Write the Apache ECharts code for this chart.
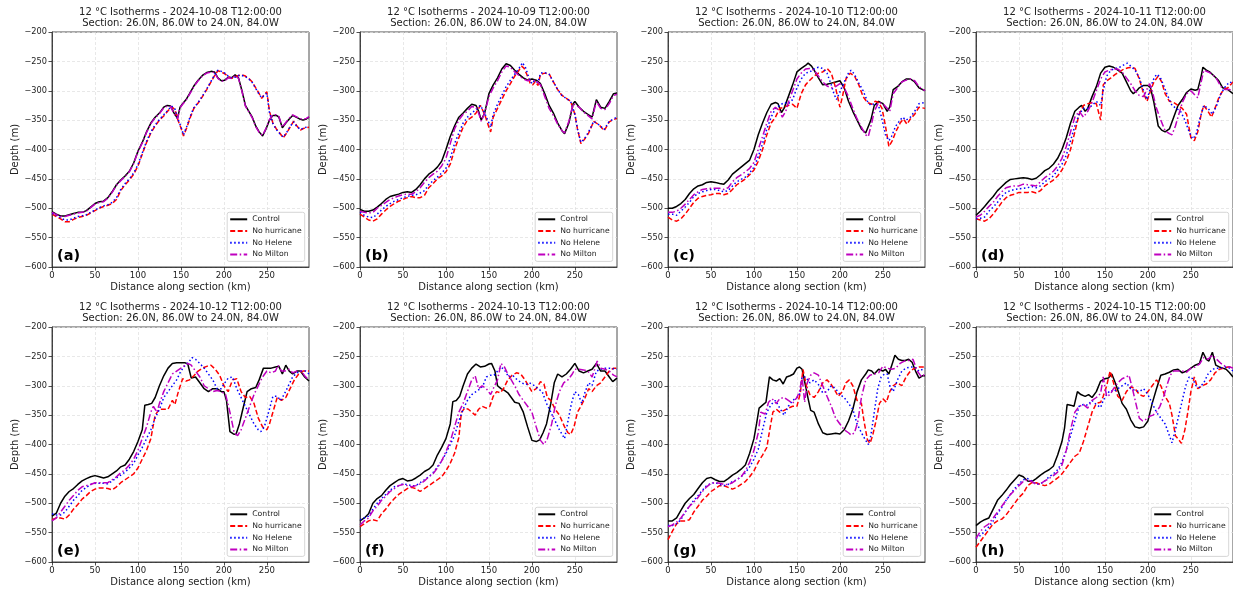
<!DOCTYPE html>
<html><head><meta charset="utf-8">
<script src="https://cdn.jsdelivr.net/npm/echarts@6/dist/echarts.min.js"></script>
<style>html,body{margin:0;padding:0;background:#fff}#c{width:1233px;height:594px}</style>
</head><body><div id="c"></div>
<script>
// ---------- data ----------
const dates = ['2024-10-08','2024-10-09','2024-10-10','2024-10-11','2024-10-12','2024-10-13','2024-10-14','2024-10-15'];
const letters = ['(a)','(b)','(c)','(d)','(e)','(f)','(g)','(h)'];
const seriesNames = ['Control','No hurricane','No Helene','No Milton'];
const xTicks = [0,50,100,150,200,250];
const xMax = 299;
const yMin = -600, yMax = -200;

// (a) 2024-10-08
const a_ctl = [[0,-506],[5,-510],[10,-513],[15,-513],[20,-511],[25,-509],[30,-507],[35,-507],[40,-504],[45,-498],[50,-492],[55,-489],[60,-488],[65,-482],[70,-472],[75,-460],[80,-452],[85,-445],[90,-437],[95,-423],[100,-403],[105,-388],[110,-370],[115,-355],[120,-345],[125,-338],[130,-328],[134,-325],[138,-326],[142,-338],[146,-347],[149,-328],[152,-322],[156,-315],[160,-305],[165,-292],[170,-282],[175,-274],[180,-269],[185,-267],[189,-268],[193,-278],[197,-283],[201,-282],[205,-277],[209,-278],[213,-273],[217,-278],[221,-300],[225,-325],[229,-335],[233,-345],[237,-360],[241,-370],[245,-377],[249,-365],[253,-350],[257,-342],[261,-342],[264,-345],[268,-363],[272,-355],[276,-348],[280,-342],[284,-345],[288,-348],[292,-350],[296,-348],[299,-345]];
const a_hur = [[0,-510],[5,-514],[10,-518],[15,-523],[20,-523],[25,-519],[30,-516],[35,-514],[40,-512],[45,-508],[50,-504],[55,-500],[60,-497],[65,-495],[70,-492],[75,-485],[80,-470],[85,-460],[90,-452],[95,-442],[100,-428],[105,-408],[110,-388],[115,-372],[120,-360],[125,-350],[130,-343],[135,-334],[139,-327],[143,-332],[147,-352],[150,-363],[153,-377],[157,-362],[161,-345],[165,-330],[170,-321],[175,-310],[180,-298],[185,-285],[190,-272],[193,-266],[197,-268],[201,-271],[205,-276],[209,-279],[213,-276],[217,-274],[221,-273],[225,-275],[229,-279],[233,-285],[237,-295],[241,-305],[244,-313],[247,-306],[250,-302],[253,-335],[257,-355],[261,-365],[265,-372],[269,-380],[273,-372],[277,-362],[281,-352],[285,-360],[289,-367],[293,-364],[299,-362]];
const a_hel = [[0,-509],[5,-512],[10,-516],[15,-520],[20,-520],[25,-517],[30,-514],[35,-513],[40,-511],[45,-507],[50,-503],[55,-499],[60,-496],[65,-494],[70,-490],[75,-482],[80,-468],[85,-458],[90,-450],[95,-440],[100,-426],[105,-406],[110,-386],[115,-370],[120,-358],[125,-349],[130,-341],[135,-333],[139,-326],[143,-331],[147,-350],[150,-361],[153,-375],[157,-360],[161,-343],[165,-329],[170,-320],[175,-309],[180,-297],[185,-284],[190,-271],[193,-265],[197,-267],[201,-270],[205,-275],[209,-278],[213,-277],[217,-274],[221,-274],[225,-276],[229,-280],[233,-286],[237,-296],[241,-306],[244,-312],[247,-308],[250,-304],[253,-337],[257,-356],[261,-366],[265,-373],[269,-379],[273,-371],[277,-361],[281,-353],[285,-361],[289,-366],[293,-363],[299,-361]];
const a_mil = [[0,-507],[5,-511],[10,-514],[15,-514],[20,-512],[25,-510],[30,-508],[35,-507],[40,-505],[45,-499],[50,-493],[55,-490],[60,-489],[65,-483],[70,-473],[75,-461],[80,-453],[85,-446],[90,-438],[95,-424],[100,-404],[105,-389],[110,-371],[115,-356],[120,-346],[125,-339],[130,-329],[134,-326],[138,-327],[142,-339],[146,-348],[149,-329],[152,-323],[156,-316],[160,-306],[165,-293],[170,-283],[175,-275],[180,-270],[185,-268],[189,-269],[193,-279],[197,-284],[201,-283],[205,-278],[209,-279],[213,-274],[217,-279],[221,-301],[225,-326],[229,-336],[233,-346],[237,-361],[241,-371],[245,-376],[249,-364],[253,-349],[257,-341],[261,-341],[264,-344],[268,-362],[272,-354],[276,-347],[280,-341],[284,-344],[288,-347],[292,-349],[296,-347],[299,-344]];

// (b) 2024-10-09
const b_ctl = [[0,-502],[5,-505],[10,-505],[15,-503],[20,-498],[25,-492],[30,-485],[35,-480],[40,-478],[45,-476],[50,-473],[55,-472],[60,-473],[65,-468],[70,-460],[75,-450],[80,-442],[85,-437],[90,-430],[95,-420],[100,-400],[105,-378],[110,-360],[115,-345],[120,-338],[125,-330],[130,-323],[135,-325],[138,-335],[141,-350],[145,-338],[150,-305],[155,-290],[160,-278],[165,-263],[170,-254],[175,-257],[180,-265],[185,-272],[190,-278],[195,-282],[200,-280],[205,-282],[210,-288],[215,-305],[220,-325],[225,-338],[230,-355],[235,-368],[238,-373],[243,-355],[248,-322],[250,-318],[255,-328],[260,-335],[265,-340],[270,-345],[275,-315],[280,-328],[285,-330],[290,-318],[295,-305],[299,-304]];
const b_hur = [[0,-510],[5,-515],[10,-520],[15,-522],[20,-518],[25,-510],[30,-503],[35,-497],[40,-492],[45,-488],[50,-485],[55,-482],[60,-480],[65,-482],[70,-482],[75,-478],[80,-465],[85,-458],[90,-450],[95,-445],[100,-438],[105,-425],[110,-400],[115,-380],[120,-362],[125,-350],[130,-345],[135,-338],[140,-325],[145,-340],[150,-362],[152,-370],[155,-345],[160,-330],[165,-315],[170,-300],[175,-288],[180,-275],[185,-265],[188,-258],[191,-262],[194,-272],[198,-287],[201,-290],[204,-284],[207,-291],[210,-272],[215,-270],[220,-271],[225,-285],[230,-298],[235,-308],[240,-313],[245,-318],[250,-340],[253,-365],[257,-390],[261,-383],[266,-372],[272,-352],[278,-358],[284,-368],[290,-353],[295,-349],[299,-347]];
const b_hel = [[0,-507],[5,-512],[10,-515],[15,-516],[20,-510],[25,-503],[30,-497],[35,-492],[40,-488],[45,-485],[50,-482],[55,-480],[60,-478],[65,-477],[70,-474],[75,-470],[80,-460],[85,-453],[90,-447],[95,-440],[100,-432],[105,-415],[110,-390],[115,-372],[120,-355],[125,-345],[130,-338],[135,-332],[140,-325],[145,-338],[150,-355],[152,-362],[155,-340],[160,-323],[165,-308],[170,-293],[175,-282],[180,-272],[185,-262],[189,-252],[193,-262],[197,-280],[200,-288],[203,-283],[207,-286],[210,-270],[215,-269],[220,-272],[225,-285],[230,-298],[235,-308],[240,-313],[245,-318],[250,-340],[253,-365],[257,-388],[261,-382],[266,-370],[272,-352],[278,-358],[284,-366],[290,-352],[295,-348],[299,-345]];
const b_mil = [[0,-505],[5,-507],[10,-508],[15,-507],[20,-500],[25,-495],[30,-490],[35,-485],[40,-482],[45,-479],[50,-477],[55,-476],[60,-476],[65,-472],[70,-465],[75,-456],[80,-448],[85,-442],[90,-437],[95,-428],[100,-415],[105,-390],[110,-365],[115,-350],[120,-340],[125,-335],[130,-327],[135,-328],[138,-338],[141,-352],[145,-338],[150,-310],[155,-295],[160,-283],[165,-268],[170,-258],[175,-260],[180,-268],[185,-274],[190,-280],[195,-283],[200,-282],[205,-283],[210,-290],[215,-310],[220,-330],[225,-342],[230,-357],[235,-368],[238,-372],[243,-352],[248,-322],[250,-320],[255,-328],[260,-336],[265,-342],[270,-348],[275,-318],[280,-330],[285,-332],[290,-322],[295,-308],[299,-306]];

// (c) 2024-10-10
const c_ctl = [[0,-500],[5,-500],[10,-497],[15,-492],[20,-485],[25,-475],[30,-467],[35,-462],[40,-460],[45,-456],[50,-455],[55,-456],[60,-458],[65,-459],[70,-452],[75,-442],[80,-436],[85,-430],[90,-424],[95,-418],[100,-400],[105,-375],[110,-355],[115,-337],[120,-323],[125,-320],[128,-322],[132,-337],[135,-330],[140,-310],[145,-290],[150,-268],[155,-262],[160,-257],[163,-253],[167,-258],[170,-265],[175,-278],[180,-290],[185,-289],[190,-287],[195,-285],[200,-283],[205,-295],[210,-318],[215,-335],[220,-350],[225,-365],[230,-372],[232,-375],[236,-350],[240,-325],[245,-318],[247,-315],[250,-322],[255,-335],[258,-328],[262,-298],[267,-293],[272,-285],[277,-280],[282,-280],[287,-285],[292,-295],[299,-300]];
const c_hur = [[0,-515],[5,-520],[10,-522],[15,-518],[20,-510],[25,-500],[30,-490],[35,-483],[40,-480],[45,-478],[50,-477],[55,-475],[60,-475],[65,-477],[70,-475],[75,-468],[80,-460],[85,-455],[90,-450],[95,-443],[100,-435],[105,-420],[110,-400],[115,-375],[120,-355],[125,-345],[130,-330],[135,-328],[140,-325],[145,-323],[150,-330],[152,-320],[155,-305],[160,-290],[165,-282],[170,-275],[175,-270],[180,-268],[185,-262],[190,-270],[195,-295],[200,-328],[203,-310],[207,-280],[212,-270],[217,-275],[222,-290],[227,-310],[232,-320],[237,-323],[241,-318],[245,-320],[249,-330],[253,-360],[257,-395],[261,-385],[265,-370],[270,-355],[274,-348],[278,-357],[282,-348],[287,-340],[292,-328],[299,-330]];
const c_hel = [[0,-510],[5,-510],[10,-512],[15,-505],[20,-498],[25,-490],[30,-480],[35,-475],[40,-472],[45,-470],[50,-468],[55,-468],[60,-470],[65,-472],[70,-470],[75,-462],[80,-455],[85,-451],[90,-447],[95,-440],[100,-430],[105,-412],[110,-390],[115,-365],[120,-345],[125,-330],[130,-325],[135,-320],[140,-322],[145,-315],[150,-295],[155,-280],[160,-270],[165,-268],[170,-263],[175,-260],[180,-262],[185,-270],[190,-290],[193,-305],[196,-315],[200,-302],[205,-285],[210,-270],[213,-265],[217,-272],[222,-287],[227,-300],[232,-318],[236,-325],[240,-322],[245,-325],[250,-355],[253,-375],[257,-385],[260,-378],[265,-360],[270,-350],[273,-345],[277,-350],[282,-345],[287,-335],[292,-322],[299,-320]];
const c_mil = [[0,-507],[5,-507],[10,-505],[15,-500],[20,-493],[25,-485],[30,-477],[35,-472],[40,-468],[45,-467],[50,-466],[55,-466],[60,-466],[65,-468],[70,-465],[75,-455],[80,-448],[85,-443],[90,-438],[95,-432],[100,-422],[105,-400],[110,-378],[115,-355],[120,-335],[125,-328],[130,-335],[133,-345],[137,-335],[140,-320],[145,-300],[150,-280],[155,-270],[160,-263],[165,-262],[170,-265],[175,-275],[180,-285],[185,-292],[190,-295],[195,-293],[200,-288],[205,-295],[210,-310],[215,-330],[220,-348],[225,-362],[230,-375],[233,-378],[237,-355],[240,-335],[245,-320],[250,-322],[255,-330],[258,-335],[262,-305],[267,-295],[272,-285],[277,-282],[282,-280],[287,-283],[292,-293],[299,-300]];

// (d) 2024-10-11
const d_ctl = [[0,-512],[5,-505],[10,-497],[15,-488],[20,-480],[25,-470],[30,-463],[35,-456],[40,-451],[45,-450],[50,-449],[55,-448],[60,-449],[65,-451],[70,-449],[75,-443],[80,-436],[85,-432],[90,-425],[95,-415],[100,-400],[105,-380],[110,-355],[115,-335],[120,-328],[123,-325],[127,-335],[130,-330],[135,-310],[140,-293],[145,-270],[150,-260],[155,-258],[160,-260],[165,-265],[170,-270],[175,-285],[180,-300],[183,-305],[187,-300],[190,-295],[195,-291],[200,-291],[203,-295],[207,-320],[212,-360],[216,-367],[220,-370],[225,-365],[230,-345],[235,-325],[240,-315],[245,-303],[250,-297],[255,-299],[258,-298],[262,-275],[264,-260],[268,-265],[272,-268],[277,-275],[282,-282],[287,-295],[292,-297],[299,-305]];
const d_hur = [[0,-518],[5,-520],[10,-522],[15,-518],[20,-510],[25,-500],[30,-490],[35,-482],[40,-478],[45,-476],[50,-473],[55,-473],[60,-473],[65,-472],[70,-474],[75,-470],[80,-462],[85,-457],[90,-452],[95,-445],[100,-435],[105,-420],[110,-400],[115,-370],[120,-340],[125,-325],[130,-322],[135,-320],[140,-322],[145,-350],[148,-290],[152,-283],[157,-278],[162,-272],[167,-268],[172,-263],[177,-261],[182,-260],[185,-262],[190,-280],[195,-305],[199,-318],[203,-300],[207,-285],[212,-275],[216,-285],[220,-305],[225,-318],[230,-320],[235,-325],[240,-330],[245,-340],[250,-380],[254,-385],[258,-370],[262,-340],[265,-325],[270,-335],[274,-345],[278,-330],[283,-310],[288,-298],[293,-295],[299,-285]];
const d_hel = [[0,-518],[5,-517],[10,-515],[15,-505],[20,-498],[25,-490],[30,-480],[35,-473],[40,-470],[45,-468],[50,-467],[55,-466],[60,-465],[65,-463],[70,-465],[75,-462],[80,-455],[85,-450],[90,-445],[95,-435],[100,-425],[105,-410],[110,-385],[115,-360],[120,-340],[125,-330],[130,-330],[135,-325],[140,-318],[145,-325],[148,-300],[152,-275],[157,-265],[162,-262],[167,-260],[172,-256],[176,-253],[180,-258],[185,-265],[190,-278],[195,-300],[199,-315],[202,-300],[206,-282],[210,-272],[214,-276],[218,-290],[222,-305],[228,-325],[233,-330],[238,-335],[243,-350],[248,-370],[252,-382],[256,-375],[260,-350],[265,-325],[270,-330],[275,-340],[280,-325],[285,-305],[290,-293],[295,-285],[299,-287]];
const d_mil = [[0,-515],[5,-512],[10,-505],[15,-497],[20,-490],[25,-480],[30,-472],[35,-465],[40,-463],[45,-462],[50,-462],[55,-459],[60,-460],[65,-461],[70,-462],[75,-455],[80,-448],[85,-443],[90,-437],[95,-428],[100,-415],[105,-395],[110,-370],[115,-345],[120,-335],[125,-345],[130,-335],[135,-320],[140,-300],[145,-280],[150,-268],[155,-265],[160,-263],[165,-263],[170,-268],[175,-278],[180,-288],[185,-300],[190,-308],[195,-310],[198,-300],[202,-288],[205,-300],[210,-330],[215,-350],[220,-368],[225,-373],[228,-375],[232,-360],[236,-340],[240,-320],[245,-305],[250,-300],[255,-308],[258,-312],[262,-285],[265,-265],[270,-268],[275,-272],[280,-280],[285,-293],[290,-298],[295,-298],[299,-300]];

// (e) 2024-10-12
const e_ctl = [[0,-522],[5,-517],[10,-500],[15,-488],[20,-480],[25,-475],[30,-468],[35,-462],[40,-458],[45,-455],[50,-453],[55,-455],[60,-457],[65,-455],[70,-450],[75,-445],[80,-438],[85,-435],[90,-425],[95,-412],[100,-395],[105,-375],[108,-333],[112,-332],[116,-330],[120,-320],[125,-300],[130,-283],[135,-270],[140,-262],[145,-261],[150,-261],[155,-261],[158,-263],[162,-287],[167,-285],[172,-295],[177,-305],[182,-310],[187,-305],[192,-305],[197,-310],[200,-310],[203,-325],[207,-378],[211,-382],[214,-383],[218,-365],[222,-340],[227,-310],[232,-305],[237,-303],[241,-290],[246,-270],[250,-270],[255,-270],[260,-268],[264,-267],[268,-280],[272,-265],[276,-275],[280,-280],[285,-275],[289,-275],[294,-285],[299,-292]];
const e_hur = [[0,-528],[5,-525],[10,-525],[15,-527],[20,-520],[25,-510],[30,-502],[35,-493],[40,-487],[45,-480],[50,-476],[55,-474],[60,-474],[65,-475],[70,-477],[75,-472],[80,-465],[85,-460],[90,-455],[95,-450],[100,-440],[105,-425],[110,-410],[115,-390],[120,-350],[125,-340],[130,-340],[135,-340],[140,-325],[143,-332],[147,-310],[152,-288],[156,-292],[160,-290],[165,-283],[170,-275],[175,-270],[180,-267],[185,-265],[190,-272],[195,-282],[200,-300],[205,-310],[210,-290],[215,-288],[220,-310],[225,-320],[230,-318],[235,-330],[240,-355],[245,-370],[250,-375],[253,-365],[258,-340],[262,-320],[267,-325],[272,-320],[277,-305],[282,-290],[287,-280],[292,-275],[299,-275]];
const e_hel = [[0,-518],[5,-520],[10,-520],[15,-515],[20,-505],[25,-495],[30,-487],[35,-478],[40,-473],[45,-468],[50,-466],[55,-466],[60,-466],[65,-467],[70,-462],[75,-457],[80,-452],[85,-447],[90,-440],[95,-432],[100,-418],[105,-405],[110,-390],[115,-375],[120,-355],[125,-340],[130,-320],[135,-310],[140,-300],[145,-290],[150,-275],[155,-265],[160,-258],[163,-252],[167,-255],[172,-262],[177,-270],[182,-280],[187,-290],[192,-305],[197,-305],[200,-297],[205,-287],[210,-285],[215,-305],[220,-320],[225,-335],[230,-350],[235,-365],[240,-375],[243,-378],[247,-370],[252,-345],[257,-318],[262,-318],[266,-325],[270,-315],[275,-300],[280,-285],[285,-278],[290,-275],[295,-275],[299,-280]];
const e_mil = [[0,-530],[5,-525],[10,-515],[15,-505],[20,-495],[25,-487],[30,-478],[35,-472],[40,-470],[45,-468],[50,-465],[55,-465],[60,-465],[65,-465],[70,-460],[75,-455],[80,-448],[85,-443],[90,-435],[95,-425],[100,-410],[105,-390],[110,-370],[115,-345],[118,-335],[122,-345],[125,-330],[130,-310],[135,-295],[140,-280],[145,-275],[150,-270],[155,-265],[158,-262],[162,-265],[167,-275],[172,-285],[177,-300],[182,-305],[187,-310],[192,-308],[197,-310],[202,-315],[207,-345],[212,-380],[216,-385],[220,-375],[225,-355],[230,-335],[235,-315],[240,-300],[245,-285],[250,-275],[255,-278],[260,-275],[263,-265],[267,-275],[271,-275],[276,-272],[280,-278],[285,-275],[290,-275],[295,-285],[299,-290]];

// (f) 2024-10-13
const f_ctl = [[0,-530],[5,-525],[10,-518],[15,-500],[20,-492],[25,-487],[30,-478],[35,-470],[40,-465],[45,-460],[50,-458],[55,-462],[60,-461],[65,-457],[70,-452],[75,-446],[80,-442],[85,-435],[90,-418],[95,-405],[100,-390],[105,-365],[108,-327],[112,-325],[116,-318],[120,-300],[125,-280],[130,-270],[135,-263],[140,-268],[145,-267],[150,-263],[153,-262],[157,-275],[160,-300],[164,-305],[168,-308],[172,-312],[176,-320],[180,-328],[185,-330],[190,-345],[195,-370],[200,-393],[205,-395],[209,-392],[213,-380],[217,-365],[222,-330],[226,-295],[230,-280],[235,-285],[240,-280],[245,-272],[250,-262],[255,-275],[260,-278],[265,-275],[270,-272],[275,-262],[280,-275],[285,-275],[290,-285],[294,-293],[299,-287]];
const f_hur = [[0,-540],[5,-535],[10,-530],[15,-528],[20,-530],[25,-518],[30,-510],[35,-500],[40,-492],[45,-485],[50,-480],[55,-475],[60,-473],[65,-475],[70,-480],[75,-475],[80,-470],[85,-465],[90,-460],[95,-455],[100,-445],[105,-432],[110,-415],[115,-388],[118,-345],[122,-338],[126,-340],[130,-345],[134,-350],[138,-340],[142,-335],[147,-338],[151,-335],[155,-318],[159,-310],[163,-312],[167,-305],[172,-290],[177,-282],[182,-278],[187,-280],[192,-290],[196,-300],[200,-310],[205,-305],[210,-293],[214,-297],[218,-320],[222,-325],[227,-340],[232,-350],[238,-370],[242,-380],[245,-383],[249,-370],[253,-345],[257,-335],[262,-320],[266,-305],[270,-310],[275,-300],[280,-295],[285,-285],[290,-275],[295,-270],[299,-270]];
const f_hel = [[0,-528],[5,-525],[10,-522],[15,-510],[20,-500],[25,-492],[30,-485],[35,-478],[40,-472],[45,-470],[50,-467],[55,-468],[60,-470],[65,-470],[70,-465],[75,-460],[80,-455],[85,-448],[90,-438],[95,-428],[100,-415],[105,-400],[110,-385],[115,-360],[120,-340],[125,-325],[130,-315],[135,-310],[140,-305],[143,-300],[147,-285],[152,-282],[156,-282],[160,-275],[164,-268],[168,-273],[173,-285],[178,-283],[183,-290],[188,-295],[193,-298],[197,-295],[203,-300],[207,-305],[212,-310],[217,-330],[222,-345],[227,-360],[232,-375],[236,-385],[238,-390],[242,-360],[246,-330],[250,-310],[254,-315],[258,-330],[262,-310],[266,-295],[270,-300],[275,-275],[280,-272],[285,-270],[290,-270],[299,-272]];
const f_mil = [[0,-537],[5,-530],[10,-525],[15,-513],[20,-505],[25,-495],[30,-488],[35,-480],[40,-475],[45,-470],[50,-468],[55,-470],[60,-472],[65,-470],[70,-467],[75,-462],[80,-455],[85,-450],[90,-440],[95,-428],[100,-412],[105,-395],[110,-370],[115,-345],[120,-330],[125,-310],[130,-290],[134,-283],[138,-305],[142,-300],[147,-305],[152,-315],[155,-305],[160,-290],[164,-262],[168,-268],[172,-280],[176,-290],[180,-300],[185,-315],[190,-325],[195,-335],[200,-345],[205,-370],[210,-393],[214,-400],[218,-390],[223,-365],[227,-335],[232,-310],[237,-295],[242,-290],[247,-280],[250,-272],[255,-272],[260,-273],[265,-275],[270,-285],[273,-272],[276,-258],[280,-270],[285,-272],[290,-275],[295,-282],[299,-285]];

// (g) 2024-10-14
const g_ctl = [[0,-530],[5,-530],[10,-525],[15,-512],[20,-500],[25,-492],[30,-485],[35,-475],[40,-465],[45,-458],[50,-456],[55,-460],[60,-463],[65,-463],[70,-458],[75,-452],[80,-448],[85,-442],[90,-435],[95,-415],[100,-390],[103,-365],[106,-338],[110,-333],[114,-328],[118,-285],[122,-290],[126,-292],[130,-288],[134,-297],[138,-285],[142,-283],[146,-280],[150,-270],[153,-268],[156,-272],[160,-300],[163,-322],[166,-342],[170,-345],[175,-365],[180,-380],[185,-383],[190,-382],[195,-381],[200,-382],[205,-375],[210,-360],[215,-340],[220,-310],[225,-290],[230,-280],[233,-273],[237,-275],[240,-280],[245,-272],[250,-275],[253,-272],[257,-280],[261,-262],[264,-248],[268,-255],[272,-257],[276,-257],[280,-255],[284,-260],[288,-275],[292,-287],[296,-283],[299,-283]];
const g_hur = [[0,-562],[5,-548],[10,-535],[15,-530],[20,-530],[25,-528],[30,-515],[35,-505],[40,-495],[45,-488],[50,-480],[55,-475],[60,-470],[65,-470],[70,-473],[75,-476],[80,-473],[85,-468],[90,-463],[95,-455],[100,-445],[105,-430],[110,-418],[115,-405],[118,-378],[122,-345],[126,-340],[130,-345],[135,-342],[140,-338],[145,-335],[150,-335],[154,-312],[157,-272],[161,-300],[165,-315],[170,-320],[175,-310],[180,-295],[185,-290],[190,-298],[195,-310],[198,-318],[203,-310],[207,-295],[211,-290],[215,-300],[220,-325],[225,-330],[228,-360],[232,-392],[235,-398],[238,-385],[242,-360],[246,-330],[250,-322],[254,-328],[258,-310],[262,-300],[267,-295],[272,-300],[277,-285],[282,-275],[287,-270],[292,-268],[299,-268]];
const g_hel = [[0,-538],[5,-538],[10,-535],[15,-528],[20,-515],[25,-505],[30,-495],[35,-487],[40,-478],[45,-470],[50,-466],[55,-465],[60,-468],[65,-470],[70,-468],[75,-463],[80,-460],[85,-455],[90,-448],[95,-438],[100,-425],[105,-408],[110,-375],[115,-345],[120,-332],[125,-325],[130,-338],[135,-350],[140,-335],[145,-325],[150,-320],[153,-315],[156,-285],[160,-285],[165,-295],[170,-290],[175,-298],[180,-312],[185,-310],[190,-300],[195,-305],[200,-315],[205,-320],[210,-330],[215,-340],[220,-365],[225,-380],[230,-393],[233,-400],[236,-385],[240,-345],[244,-305],[248,-285],[252,-280],[255,-280],[258,-300],[262,-310],[267,-290],[272,-275],[277,-270],[282,-268],[287,-268],[292,-275],[299,-270]];
const g_mil = [[0,-540],[5,-537],[10,-532],[15,-525],[20,-515],[25,-505],[30,-498],[35,-490],[40,-480],[45,-472],[50,-466],[55,-465],[60,-466],[65,-468],[70,-468],[75,-465],[80,-460],[85,-455],[90,-445],[95,-430],[100,-410],[105,-380],[108,-345],[113,-348],[117,-328],[121,-322],[126,-330],[130,-322],[135,-320],[140,-325],[145,-330],[150,-320],[153,-310],[156,-285],[159,-328],[162,-295],[166,-282],[170,-278],[175,-282],[180,-300],[185,-318],[190,-335],[195,-355],[200,-365],[205,-375],[210,-380],[213,-384],[217,-380],[221,-360],[225,-320],[230,-290],[235,-282],[240,-280],[245,-278],[250,-267],[255,-270],[260,-272],[265,-270],[270,-262],[275,-258],[280,-257],[285,-255],[290,-275],[295,-285],[299,-280]];

// (h) 2024-10-15
const h_ctl = [[0,-538],[5,-532],[10,-528],[15,-525],[20,-510],[25,-495],[30,-487],[35,-478],[40,-468],[45,-460],[50,-452],[55,-455],[60,-462],[65,-463],[70,-458],[75,-452],[80,-447],[85,-443],[90,-437],[95,-418],[100,-395],[103,-372],[106,-332],[110,-333],[114,-335],[118,-310],[122,-315],[127,-318],[131,-315],[135,-320],[140,-310],[145,-292],[150,-288],[154,-287],[158,-280],[162,-295],[166,-312],[170,-330],[175,-340],[180,-358],[185,-370],[190,-372],[195,-370],[200,-360],[205,-330],[210,-305],[215,-282],[220,-280],[225,-277],[230,-273],[235,-272],[240,-278],[245,-275],[250,-270],[255,-265],[260,-262],[264,-243],[268,-255],[271,-258],[275,-243],[279,-265],[283,-268],[287,-270],[291,-272],[295,-278],[299,-285]];
const h_hur = [[0,-575],[5,-565],[10,-555],[15,-545],[20,-535],[25,-530],[30,-527],[35,-520],[40,-510],[45,-500],[50,-490],[55,-483],[60,-470],[65,-465],[70,-465],[75,-468],[80,-470],[85,-468],[90,-462],[95,-457],[100,-450],[105,-440],[110,-430],[115,-420],[120,-415],[125,-395],[130,-370],[135,-345],[140,-330],[145,-328],[148,-318],[152,-300],[156,-275],[160,-295],[165,-318],[170,-325],[175,-310],[180,-302],[185,-305],[190,-315],[195,-318],[200,-310],[205,-300],[210,-290],[215,-300],[220,-318],[225,-330],[228,-350],[232,-385],[236,-392],[239,-398],[243,-375],[247,-340],[250,-310],[254,-285],[258,-305],[263,-300],[268,-297],[273,-290],[278,-278],[283,-272],[288,-270],[293,-268],[299,-268]];
const h_hel = [[0,-560],[5,-555],[10,-548],[15,-540],[20,-530],[25,-518],[30,-507],[35,-495],[40,-485],[45,-475],[50,-467],[55,-460],[60,-458],[65,-462],[70,-468],[75,-467],[80,-462],[85,-455],[90,-450],[95,-443],[100,-430],[105,-410],[110,-385],[115,-360],[120,-335],[125,-332],[130,-333],[135,-325],[140,-332],[145,-337],[148,-325],[152,-315],[156,-308],[160,-310],[165,-305],[170,-300],[175,-295],[180,-305],[185,-308],[190,-310],[195,-305],[200,-315],[205,-330],[210,-345],[215,-355],[220,-365],[225,-385],[228,-397],[232,-375],[236,-350],[240,-325],[244,-300],[248,-285],[252,-288],[256,-300],[260,-303],[265,-295],[270,-280],[275,-272],[280,-270],[285,-270],[290,-268],[295,-270],[299,-275]];
const h_mil = [[0,-560],[5,-548],[10,-540],[15,-535],[20,-525],[25,-515],[30,-505],[35,-495],[40,-485],[45,-478],[50,-470],[55,-463],[60,-460],[65,-463],[70,-468],[75,-467],[80,-462],[85,-458],[90,-453],[95,-447],[100,-435],[105,-410],[110,-375],[115,-345],[120,-335],[125,-332],[130,-338],[135,-325],[140,-320],[145,-313],[148,-285],[152,-318],[156,-315],[160,-305],[165,-295],[170,-288],[175,-285],[178,-282],[182,-305],[186,-330],[190,-355],[194,-360],[198,-357],[202,-352],[206,-350],[210,-345],[214,-335],[218,-320],[222,-300],[226,-282],[230,-275],[235,-275],[240,-275],[245,-277],[250,-270],[255,-268],[260,-263],[265,-252],[270,-255],[275,-248],[280,-255],[285,-262],[290,-267],[295,-268],[299,-270]];

const panelData = [
  [a_ctl,a_hur,a_hel,a_mil],[b_ctl,b_hur,b_hel,b_mil],[c_ctl,c_hur,c_hel,c_mil],[d_ctl,d_hur,d_hel,d_mil],
  [e_ctl,e_hur,e_hel,e_mil],[f_ctl,f_hur,f_hel,f_mil],[g_ctl,g_hur,g_hel,g_mil],[h_ctl,h_hur,h_hel,h_mil]
];

// ---------- layout & style ----------
const FONT = '"DejaVu Sans", "Liberation Sans", sans-serif';
const W = 1233, H = 594;
const colLeft = [52, 360, 668, 976];
const rowTop = [32, 327];
const PW = 257, PH = 235;
const lineStyles = [
  {color:'#000000', width:1.5, type:'solid'},
  {color:'#ff0000', width:1.5, type:[5,2.5]},
  {color:'#0000ff', width:1.5, type:[1.5,2.5]},
  {color:'#bf00bf', width:1.5, type:[7,2.5,1.5,2.5]}
];

const chart = echarts.init(document.getElementById('c'), null, {renderer:'canvas'});
const grids=[], xAxes=[], yAxes=[], series=[], titles=[], legends=[], graphics=[];
for (let i=0;i<8;i++){
  const L = colLeft[i%4], T = rowTop[Math.floor(i/4)];
  grids.push({left:L, top:T, width:PW, height:PH, show:true, borderColor:'#222', borderWidth:0.8, backgroundColor:'transparent'});
  xAxes.push({type:'value', gridIndex:i, min:0, max:xMax, interval:50,
    axisLine:{show:true, onZero:false, lineStyle:{color:'#222', width:0.8}},
    axisTick:{show:true, length:3.5, customValues:xTicks, lineStyle:{color:'#222', width:0.8}},
    axisLabel:{customValues:xTicks, fontSize:8.5, color:'#222', margin:4, fontFamily:FONT},
    splitLine:{show:true, lineStyle:{color:'#dedede', type:[3,2], width:0.7}},
    name:'Distance along section (km)', nameLocation:'middle', nameGap:15,
    nameTextStyle:{fontSize:10, color:'#222', fontFamily:FONT}});
  yAxes.push({type:'value', gridIndex:i, min:yMin, max:yMax, interval:50,
    axisLine:{show:true, onZero:false, lineStyle:{color:'#222', width:0.8}},
    axisTick:{show:true, length:3.5, lineStyle:{color:'#222', width:0.8}},
    axisLabel:{fontSize:8.2, color:'#222', margin:5, fontFamily:FONT, formatter:v=>String(v).replace('-','\u2212')},
    splitLine:{show:true, lineStyle:{color:'#dedede', type:[3,2], width:0.7}},
    name:'Depth (m)', nameLocation:'middle', nameGap:31,
    nameTextStyle:{fontSize:10, color:'#222', fontFamily:FONT}});
  for (let s=0;s<4;s++){
    series.push({type:'line', name:seriesNames[s], xAxisIndex:i, yAxisIndex:i,
      data:panelData[i][s], symbol:'none', showSymbol:false, smooth:false,
      lineStyle:lineStyles[s], itemStyle:{color:lineStyles[s].color}, z:2+s, animation:false});
  }
  titles.push({text:'12 \u00b0C Isotherms - '+dates[i]+' T12:00:00\nSection: 26.0N, 86.0W to 24.0N, 84.0W',
    left:L+PW/2, top:T-25, textAlign:'center', padding:0,
    textStyle:{fontSize:10, lineHeight:11, fontWeight:'normal', color:'#222', fontFamily:FONT, align:'center'}});
  legends.push({data:seriesNames, orient:'vertical', selectedMode:false,
    right: W-(L+PW-4.3), bottom: H-(T+PH-5.6),
    itemWidth:17, itemHeight:8, itemGap:3.7, padding:[3,3,3,2],
    itemStyle:{opacity:0, borderWidth:0},
    backgroundColor:'rgba(255,255,255,0.85)', borderColor:'#cccccc', borderWidth:0.8, borderRadius:2,
    textStyle:{fontSize:7.7, color:'#222', fontFamily:FONT}});
  graphics.push({type:'text', left:L+5, top:T+PH-18.5, z:100,
    style:{text:letters[i], font:'bold 14.5px '+FONT, fill:'#000'}});
}
chart.setOption({animation:false, backgroundColor:'#fff', title:titles, legend:legends, grid:grids,
  xAxis:xAxes, yAxis:yAxes, series:series, graphic:graphics});
</script></body></html>
